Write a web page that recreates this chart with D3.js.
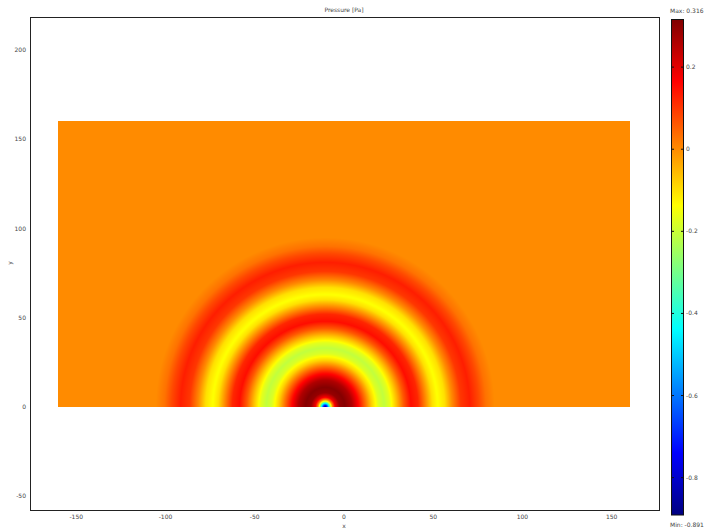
<!DOCTYPE html>
<html>
<head>
<meta charset="utf-8">
<script src="https://cdn.jsdelivr.net/npm/d3@7"></script>
<style>
  body { margin: 0; background: #fff; }
  text { font-family: "DejaVu Sans", Verdana, sans-serif; font-size: 6px; fill: #444; }
</style>
</head>
<body>
<script>
let width = 704
let height = 532

// radial pressure profile (distance from source, value in Pa)
const radius   = [0, 1, 2, 3, 4, 5.5, 8, 11, 15, 19, 23, 26, 30, 33, 36, 40, 44, 48, 52, 56, 60, 63, 67, 71, 76, 81, 86, 90, 95, 400]
const pressure = [-0.891, -0.7, -0.45, -0.2, 0.0, 0.18, 0.29, 0.31, 0.26, 0.15, 0.02, -0.08, -0.18, -0.21, -0.17, -0.06, 0.06, 0.15, 0.12, 0.01, -0.1, -0.14, -0.1, 0.0, 0.1, 0.13, 0.08, 0.03, 0.0, 0.0]
const source = [-10.5, 0]
const domainX = [-160, 160]
const domainY = [0, 160]

// colour map (jet)
const colorStops = [-0.891, -0.740, -0.438, -0.137, 0.165, 0.316]
const colorList  = ["#000080", "#0000ff", "#00ffff", "#ffff00", "#ff0000", "#800000"]
const pMin = -0.891, pMax = 0.316

const xTicks = [-150, -100, -50, 0, 50, 100, 150]
const yTicks = [-50, 0, 50, 100, 150, 200]
const cTicks = [0.2, 0, -0.2, -0.4, -0.6, -0.8]

var x = d3.scaleLinear().domain([-175.9, 176.5]).range([30, 659])
var y = d3.scaleLinear().domain([-57.7, 218.5]).range([510, 17])
var profile = d3.scaleLinear().domain(radius).range(pressure).clamp(true)
var color = d3.scaleLinear().domain(colorStops).range(colorList).clamp(true)
var cy = d3.scaleLinear().domain([pMin, pMax]).range([515, 19.5])

let svg = d3.select("body").append("svg")
	.attr("width", width)
	.attr("height", height)

// render the field into a canvas, then place it as an image
let x0 = Math.round(x(domainX[0])), x1 = Math.round(x(domainX[1]))
let y0 = Math.round(y(domainY[1])), y1 = Math.round(y(domainY[0]))
let cw = x1 - x0, ch = y1 - y0
let canvas = document.createElement("canvas")
canvas.width = cw
canvas.height = ch
let ctx = canvas.getContext("2d")
let img = ctx.createImageData(cw, ch)
for (let j = 0; j < ch; j++) {
	for (let i = 0; i < cw; i++) {
		let dx = x.invert(x0 + i + 0.5) - source[0]
		let dy = y.invert(y0 + j + 0.5) - source[1]
		let c = d3.rgb(color(profile(Math.hypot(dx, dy))))
		let k = (j * cw + i) * 4
		img.data[k] = c.r; img.data[k + 1] = c.g; img.data[k + 2] = c.b; img.data[k + 3] = 255
	}
}
ctx.putImageData(img, 0, 0)

svg.append("image")
	.attr("x", x0).attr("y", y0)
	.attr("width", cw).attr("height", ch)
	.attr("href", canvas.toDataURL())

// frame
svg.append("rect")
	.attr("x", 30.5).attr("y", 17.5)
	.attr("width", 629).attr("height", 493)
	.attr("fill", "none").attr("stroke", "#222").attr("stroke-width", 1)

svg.append("text").attr("x", 344).attr("y", 12).attr("text-anchor", "middle").text("Pressure [Pa]")

svg.selectAll(".xt").data(xTicks).enter().append("text")
	.attr("x", d => x(d)).attr("y", 519).attr("text-anchor", "middle").text(d => d)
svg.append("text").attr("x", 344).attr("y", 528).attr("text-anchor", "middle").text("x")

svg.selectAll(".yt").data(yTicks).enter().append("text")
	.attr("x", 26).attr("y", d => y(d) + 2).attr("text-anchor", "end").text(d => d)
svg.append("text").attr("transform", "translate(12,263) rotate(-90)").attr("text-anchor", "middle").text("y")

// colour legend
let grad = svg.append("defs").append("linearGradient")
	.attr("id", "jet").attr("x1", 0).attr("y1", 1).attr("x2", 0).attr("y2", 0)
grad.selectAll("stop").data(colorStops).enter().append("stop")
	.attr("offset", d => (d - pMin) / (pMax - pMin))
	.attr("stop-color", d => color(d))

svg.append("rect")
	.attr("x", 671.5).attr("y", cy(pMax))
	.attr("width", 12).attr("height", cy(pMin) - cy(pMax))
	.attr("fill", "url(#jet)").attr("stroke", "#111").attr("stroke-width", 1)

svg.selectAll(".ctl").data(cTicks).enter().append("line")
	.attr("x1", 671.5).attr("x2", 674).attr("y1", d => cy(d)).attr("y2", d => cy(d))
	.attr("stroke", "#111")
svg.selectAll(".ctr").data(cTicks).enter().append("line")
	.attr("x1", 681).attr("x2", 683.5).attr("y1", d => cy(d)).attr("y2", d => cy(d))
	.attr("stroke", "#111")
svg.selectAll(".ct").data(cTicks).enter().append("text")
	.attr("x", 686).attr("y", d => cy(d) + 2).text(d => d)

svg.append("text").attr("x", 670).attr("y", 13).text("Max: " + pMax)
svg.append("text").attr("x", 670).attr("y", 527).text("Min: " + pMin)
</script>
</body>
</html>
